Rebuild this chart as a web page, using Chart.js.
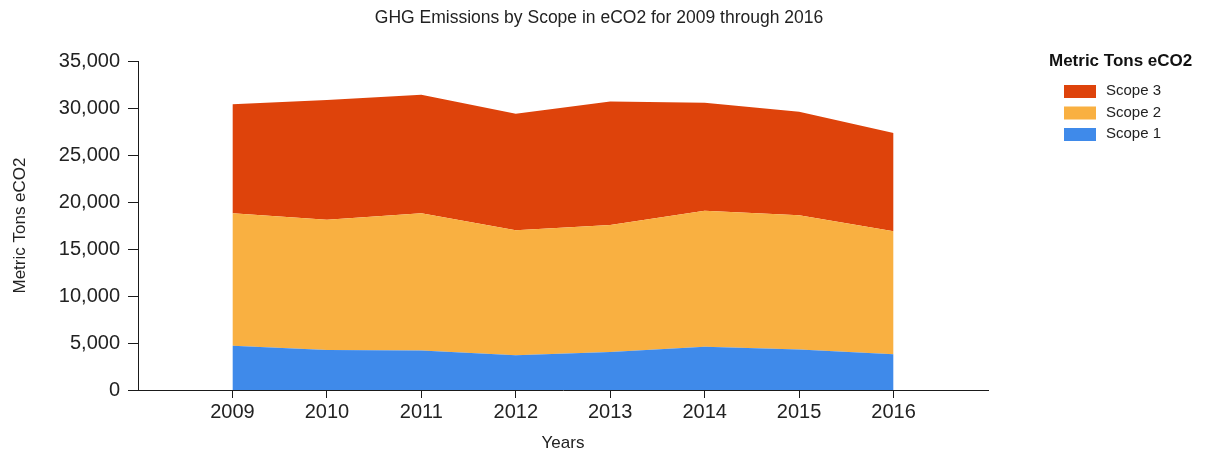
<!DOCTYPE html>
<html>
<head>
<meta charset="utf-8">
<script src="https://cdn.jsdelivr.net/npm/chart.js@4.4.1/dist/chart.umd.min.js"></script>
<style>
  html, body { margin: 0; padding: 0; background: #fff; }
  #wrap { width: 1208px; height: 456px; position: relative; }
</style>
</head>
<body>
<div id="wrap"><canvas id="c" width="1208" height="456"></canvas></div>
<script>
// Reporting years
const years = [2009, 2010, 2011, 2012, 2013, 2014, 2015, 2016];

// Emissions by scope, metric tons eCO2
const scope1 = [4700, 4250, 4200, 3700, 4050, 4600, 4300, 3800];
const scope2 = [14100, 13850, 14600, 13300, 13500, 14470, 14300, 13100];
const scope3 = [11600, 12750, 12600, 12400, 13150, 11490, 11000, 10450];

// Y axis tick values
const yTicks = [0, 5000, 10000, 15000, 20000, 25000, 30000, 35000];

const seriesNames = ['Scope 1', 'Scope 2', 'Scope 3'];
const seriesColors = ['#3F8AEA', '#F9B041', '#DE430B'];
const chartTitle = 'GHG Emissions by Scope in eCO2 for 2009 through 2016';
const legendTitle = 'Metric Tons eCO2';

const toPoints = vals => vals.map((v, i) => ({ x: years[i], y: v }));

const FONT = "'Liberation Sans', Arial, sans-serif";
const AXIS = '#1a1a1a';

// Title centred over the whole figure, plus a right-hand legend
// with a bold heading and the series listed top-down
const decorations = {
  id: 'decorations',
  afterDraw(chart) {
    const ctx = chart.ctx;
    ctx.save();
    ctx.textBaseline = 'middle';

    ctx.fillStyle = '#222';
    ctx.font = "17.5px " + FONT;
    ctx.textAlign = 'center';
    ctx.fillText(chartTitle, 599, 18);

    ctx.textAlign = 'left';
    ctx.fillStyle = '#111';
    ctx.font = "bold 17px " + FONT;
    ctx.fillText(legendTitle, 1049, 61);
    const items = chart.data.datasets.map(d => ({ label: d.label, color: d.backgroundColor })).reverse();
    items.forEach((it, i) => {
      const cy = 91 + i * 21.5;
      ctx.fillStyle = it.color;
      ctx.fillRect(1064, cy - 6, 32, 13);
      ctx.fillStyle = '#222';
      ctx.font = "15px " + FONT;
      ctx.fillText(it.label, 1106, cy);
    });
    ctx.restore();
  }
};

new Chart(document.getElementById('c'), {
  type: 'line',
  data: {
    datasets: [
      { label: seriesNames[0], data: toPoints(scope1), backgroundColor: seriesColors[0], fill: 'origin' },
      { label: seriesNames[1], data: toPoints(scope2), backgroundColor: seriesColors[1], fill: '-1' },
      { label: seriesNames[2], data: toPoints(scope3), backgroundColor: seriesColors[2], fill: '-1' }
    ].map(d => Object.assign(d, { borderWidth: 0, borderColor: d.backgroundColor, pointRadius: 0, tension: 0 }))
  },
  options: {
    responsive: false,
    animation: false,
    layout: { padding: { left: 0, right: 220, top: 61, bottom: 0 } },
    plugins: {
      legend: { display: false },
      tooltip: { enabled: false },
      title: { display: false }
    },
    scales: {
      x: {
        type: 'linear',
        min: 2008,
        max: 2017,
        afterBuildTicks: s => { s.ticks = years.map(v => ({ value: v })); },
        afterFit: s => { s.height = 66; },
        ticks: {
          color: '#222',
          font: { family: FONT, size: 20 },
          padding: 2,
          callback: v => String(v)
        },
        grid: { drawOnChartArea: false, drawTicks: true, tickLength: 8, color: AXIS },
        border: { color: AXIS, width: 1 },
        title: {
          display: true, text: 'Years', color: '#222',
          font: { family: FONT, size: 17 }, padding: { top: 0, bottom: 2 }
        }
      },
      y: {
        stacked: true,
        min: 0,
        max: 35000,
        afterBuildTicks: s => { s.ticks = yTicks.map(v => ({ value: v })); },
        afterFit: s => { s.width = 138; },
        ticks: {
          color: '#222',
          font: { family: FONT, size: 20 },
          padding: 8,
          callback: v => v.toLocaleString('en-US')
        },
        grid: { drawOnChartArea: false, drawTicks: true, tickLength: 10, color: AXIS },
        border: { color: AXIS, width: 1 },
        title: {
          display: true, text: 'Metric Tons eCO2', color: '#222',
          font: { family: FONT, size: 17 }, padding: { top: 10, bottom: 0 }
        }
      }
    }
  },
  plugins: [decorations]
});
</script>
</body>
</html>
